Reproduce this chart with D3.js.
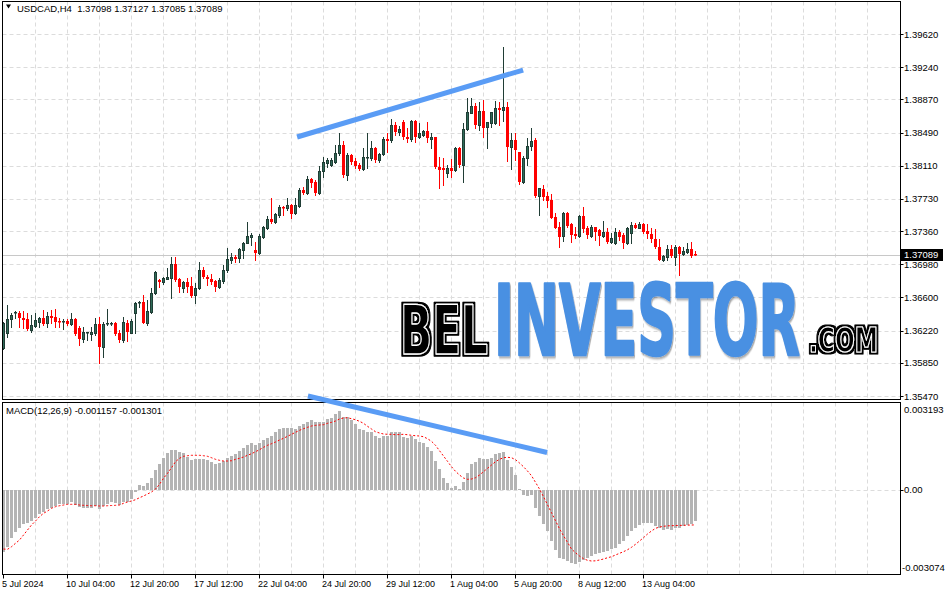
<!DOCTYPE html>
<html><head><meta charset="utf-8">
<script src="https://cdn.jsdelivr.net/npm/d3@7"></script>
<style>
body{margin:0;background:#fff}
svg{display:block}
text{font-family:'Liberation Sans',Arial,sans-serif}
</style>
</head><body>
<svg id="chart" width="946" height="595"></svg>
<script>
// ---------------- DATA ----------------
const symbol = "USDCAD,H4";
const openP = [1.36021,1.36196,1.36353,1.36422,1.36419,1.36368,1.36350,1.36227,1.36273,1.36315,
1.36368,1.36304,1.36388,1.36373,1.36334,1.36322,1.36330,1.36296,1.36353,1.36247,
1.36124,1.36189,1.36181,1.36196,1.36296,1.36036,1.36293,1.36293,1.36304,1.36189,
1.36113,1.36304,1.36196,1.36419,1.36540,1.36545,1.36311,1.36437,1.36648,1.36800,
1.36781,1.36812,1.36820,1.36984,1.36812,1.36712,1.36774,1.36731,1.36628,1.36705,
1.36915,1.36831,1.36812,1.36789,1.36723,1.36792,1.36915,1.37029,1.37067,1.37049,
1.37144,1.37221,1.37296,1.37144,1.37113,1.37296,1.37400,1.37496,1.37468,1.37545,
1.37640,1.37622,1.37660,1.37565,1.37648,1.37832,1.37801,1.37954,1.37920,1.37797,
1.38049,1.38141,1.38118,1.38156,1.38252,1.38347,1.38004,1.38233,1.38164,1.38118,
1.38069,1.38198,1.38195,1.38309,1.38175,1.38244,1.38413,1.38405,1.38577,1.38500,
1.38611,1.38436,1.38413,1.38626,1.38436,1.38462,1.38511,1.38413,1.38436,1.38092,
1.38080,1.38023,1.38080,1.38061,1.38309,1.38118,1.38527,1.38717,1.38794,1.38577,
1.38737,1.38557,1.38603,1.38596,1.38768,1.38748,1.38779,1.38328,1.38405,1.38271,
1.37927,1.38195,1.38336,1.38405,1.37763,1.37843,1.37766,1.37717,1.37526,1.37411,
1.37308,1.37571,1.37442,1.37327,1.37308,1.37534,1.37400,1.37308,1.37411,1.37373,
1.37308,1.37354,1.37239,1.37221,1.37354,1.37316,1.37221,1.37342,1.37430,1.37400,
1.37442,1.37362,1.37327,1.37270,1.37175,1.37029,1.37067,1.37152,1.37067,1.37175,
1.37098,1.37125,1.37155,1.37098];
const highP = [1.36319,1.36514,1.36425,1.36448,1.36448,1.36445,1.36419,1.36399,1.36419,1.36380,
1.36456,1.36437,1.36456,1.36464,1.36361,1.36353,1.36353,1.36419,1.36361,1.36273,
1.36265,1.36208,1.36265,1.36361,1.36373,1.36322,1.36468,1.36322,1.36322,1.36227,
1.36380,1.36342,1.36350,1.36552,1.36563,1.36628,1.36571,1.36705,1.36903,1.36812,
1.36838,1.36934,1.37060,1.37060,1.36820,1.36792,1.36820,1.36838,1.36762,1.37010,
1.36946,1.36857,1.36869,1.36800,1.36820,1.36972,1.37163,1.37113,1.37087,1.37163,
1.37239,1.37468,1.37335,1.37239,1.37327,1.37419,1.37534,1.37743,1.37571,1.37660,
1.37648,1.37736,1.37668,1.37743,1.37851,1.37863,1.37992,1.37966,1.37946,1.38107,
1.38210,1.38198,1.38198,1.38347,1.38481,1.38393,1.38252,1.38244,1.38195,1.38138,
1.38309,1.38488,1.38393,1.38328,1.38259,1.38436,1.38481,1.38642,1.38614,1.38565,
1.38634,1.38539,1.38634,1.38634,1.38596,1.38519,1.38614,1.38481,1.38442,1.38206,
1.38195,1.38118,1.38183,1.38328,1.38328,1.38596,1.38882,1.38882,1.38825,1.38844,
1.38863,1.38607,1.38729,1.38855,1.38844,1.39470,1.38844,1.38481,1.38481,1.38271,
1.38221,1.38424,1.38546,1.38424,1.37851,1.37889,1.37812,1.37786,1.37571,1.37468,
1.37583,1.37583,1.37457,1.37411,1.37545,1.37640,1.37419,1.37430,1.37411,1.37381,
1.37480,1.37393,1.37335,1.37393,1.37373,1.37342,1.37411,1.37468,1.37450,1.37468,
1.37457,1.37442,1.37393,1.37381,1.37267,1.37087,1.37201,1.37201,1.37201,1.37190,
1.37182,1.37228,1.37239,1.37127];
const lowP = [1.36009,1.36150,1.36265,1.36368,1.36265,1.36247,1.36227,1.36208,1.36265,1.36265,
1.36284,1.36265,1.36304,1.36265,1.36265,1.36239,1.36284,1.36284,1.36170,1.36055,
1.36093,1.36113,1.36113,1.36170,1.35852,1.35921,1.36284,1.36284,1.36170,1.36093,
1.36093,1.36105,1.36189,1.36196,1.36494,1.36311,1.36284,1.36419,1.36640,1.36723,
1.36754,1.36806,1.36590,1.36792,1.36666,1.36666,1.36666,1.36609,1.36540,1.36697,
1.36820,1.36743,1.36754,1.36678,1.36705,1.36769,1.36895,1.36992,1.37003,1.37010,
1.37056,1.37221,1.37201,1.37029,1.37098,1.37278,1.37381,1.37450,1.37450,1.37519,
1.37545,1.37602,1.37507,1.37557,1.37640,1.37786,1.37782,1.37869,1.37774,1.37786,
1.37981,1.38095,1.38107,1.38141,1.38233,1.37984,1.37946,1.38130,1.38080,1.38061,
1.38061,1.38080,1.38175,1.38156,1.38156,1.38233,1.38271,1.38385,1.38462,1.38462,
1.38413,1.38385,1.38397,1.38385,1.38424,1.38450,1.38385,1.38309,1.38080,1.37851,
1.37889,1.37984,1.37984,1.38053,1.38092,1.37927,1.38519,1.38711,1.38539,1.38519,
1.38436,1.38309,1.38557,1.38588,1.38577,1.38626,1.38167,1.38072,1.38175,1.37900,
1.37915,1.38118,1.38290,1.37755,1.37545,1.37717,1.37640,1.37507,1.37393,1.37182,
1.37251,1.37411,1.37239,1.37278,1.37290,1.37354,1.37278,1.37296,1.37259,1.37201,
1.37296,1.37221,1.37221,1.37213,1.37259,1.37163,1.37213,1.37221,1.37393,1.37393,
1.37342,1.37278,1.37239,1.37163,1.37029,1.37021,1.37029,1.37067,1.36972,1.36857,
1.37087,1.37113,1.37067,1.37085];
const closeP = [1.36307,1.36350,1.36399,1.36433,1.36361,1.36342,1.36235,1.36284,1.36342,1.36361,
1.36296,1.36388,1.36361,1.36322,1.36319,1.36334,1.36299,1.36353,1.36181,1.36124,
1.36208,1.36201,1.36208,1.36296,1.36036,1.36296,1.36311,1.36311,1.36181,1.36113,
1.36315,1.36208,1.36334,1.36533,1.36552,1.36311,1.36445,1.36648,1.36895,1.36781,
1.36827,1.36838,1.36984,1.36800,1.36723,1.36774,1.36723,1.36617,1.36705,1.36915,
1.36831,1.36808,1.36781,1.36723,1.36800,1.36915,1.37037,1.37067,1.37041,1.37155,
1.37228,1.37304,1.37316,1.37113,1.37304,1.37404,1.37496,1.37465,1.37557,1.37640,
1.37629,1.37660,1.37557,1.37660,1.37832,1.37801,1.37954,1.37908,1.37794,1.38049,
1.38152,1.38175,1.38175,1.38252,1.38347,1.38004,1.38233,1.38156,1.38107,1.38069,
1.38206,1.38206,1.38309,1.38175,1.38244,1.38413,1.38393,1.38577,1.38500,1.38527,
1.38436,1.38413,1.38626,1.38436,1.38488,1.38511,1.38424,1.38436,1.38092,1.38061,
1.38061,1.38080,1.38053,1.38309,1.38118,1.38527,1.38729,1.38794,1.38577,1.38737,
1.38546,1.38607,1.38722,1.38768,1.38748,1.38786,1.38328,1.38405,1.38290,1.37927,
1.38195,1.38336,1.38393,1.37763,1.37851,1.37755,1.37709,1.37514,1.37400,1.37296,
1.37571,1.37419,1.37316,1.37308,1.37534,1.37385,1.37316,1.37411,1.37354,1.37308,
1.37354,1.37239,1.37285,1.37354,1.37296,1.37221,1.37393,1.37430,1.37400,1.37442,
1.37354,1.37324,1.37267,1.37175,1.37029,1.37075,1.37152,1.37075,1.37175,1.37098,
1.37133,1.37155,1.37075,1.37089];

// MACD(12,26,9) main line (histogram) and signal, in units of 1e-6
const macdMain = [-2289,-2105,-1773,-1552,-1405,-1279,-1242,-1158,-1036,-911,
-815,-715,-667,-594,-542,-531,-520,-468,-568,-630,
-667,-667,-667,-605,-726,-605,-542,-468,-505,-568,
-468,-446,-358,-77,170,144,232,439,723,944,
1176,1338,1460,1460,1397,1338,1213,1091,1128,1128,
1128,1091,1029,933,970,1054,1176,1239,1301,1423,
1545,1644,1729,1644,1707,1829,1913,1987,2112,2234,
2282,2282,2260,2234,2345,2407,2503,2566,2481,2481,
2503,2603,2651,2776,2898,2687,2665,2566,2407,2234,
2197,2134,2112,1987,1913,1987,1987,2112,2112,2112,
1950,1913,1987,1865,1766,1707,1582,1423,1054,759,
417,232,70,144,22,291,601,933,1029,1154,
1128,1128,1176,1301,1338,1397,1091,844,538,22,
-199,-225,-199,-667,-962,-1268,-1526,-1884,-2227,-2533,
-2558,-2632,-2717,-2754,-2658,-2595,-2533,-2437,-2385,-2348,
-2311,-2264,-2190,-2142,-2017,-1895,-1699,-1526,-1405,-1305,
-1242,-1242,-1242,-1331,-1405,-1489,-1452,-1489,-1405,-1405,
-1331,-1305,-1279,-1157];
const macdSignal = [-2190,-2201,-2105,-1980,-1858,-1674,-1489,-1305,-1158,-999,
-874,-789,-689,-630,-594,-568,-542,-542,-542,-568,
-579,-586,-594,-594,-605,-605,-594,-586,-579,-568,
-505,-457,-420,-372,-299,-236,-162,-88,22,195,
417,601,807,1029,1154,1228,1250,1265,1265,1265,
1250,1228,1176,1117,1080,1054,1054,1065,1117,1154,
1202,1265,1323,1397,1471,1559,1633,1692,1755,1829,
1891,1965,2039,2112,2186,2245,2297,2345,2370,2382,
2393,2444,2481,2529,2603,2640,2651,2614,2577,2518,
2444,2334,2234,2134,2087,2050,2039,2039,2024,2030,
2039,2024,2002,1987,1976,1950,1876,1781,1633,1434,
1239,1043,844,675,538,428,380,391,439,538,
660,785,907,1029,1117,1176,1191,1176,1102,981,
844,686,512,269,22,-262,-557,-852,-1147,-1441,
-1699,-1943,-2190,-2326,-2448,-2547,-2606,-2632,-2625,-2595,
-2558,-2511,-2474,-2411,-2348,-2289,-2216,-2127,-2017,-1895,
-1773,-1637,-1526,-1427,-1379,-1353,-1335,-1330,-1325,-1320,
-1315,-1310,-1305,-1301];

const priceTicks = [1.39620,1.39240,1.38870,1.38490,1.38110,1.37730,1.37360,1.36980,1.36600,1.36220,1.35850,1.35470];
const macdTicks = [0.003193, 0, -0.003074];
const macdTickLabels = ["0.003193","0.00","-0.003074"];
const timeTickBars = [0,16,32,48,64,80,96,112,128,144,160];
const timeTickLabels = ["5 Jul 2024","10 Jul 04:00","12 Jul 20:00","17 Jul 12:00","22 Jul 04:00","24 Jul 20:00","29 Jul 12:00","1 Aug 04:00","5 Aug 20:00","8 Aug 12:00","13 Aug 04:00"];
const trendPrice = [{bar:73.4, value:1.38439},{bar:129.9, value:1.39207}];
const trendMacd  = [{bar:76.1, value:0.003451},{bar:135.9, value:0.001368}];

// ---------------- LAYOUT ----------------
const svg = d3.select("#chart");
const L = 2.5, R = 900.5, mainTop = 1.5, mainBot = 399.5, macdTop = 402.5, macdBot = 574.5;
const x = d3.scaleLinear().domain([0, 224]).range([3.5, 899.5]);
const y = d3.scaleLinear().domain([1.35470, 1.39620]).range([396, 34]);
const ym = d3.scaleLinear().domain([-0.003074, 0.003193]).range([573, 403]);
const fmt5 = d3.format(".5f");
const gridCol = "#dcdcdc", bullFill = "#2f6b58", bullLine = "#203d35", bear = "#ff0000";

const defs = svg.append("defs");
defs.append("clipPath").attr("id","clipMain").append("rect")
  .attr("x",L).attr("y",mainTop).attr("width",R-L).attr("height",mainBot-mainTop);
defs.append("clipPath").attr("id","clipMacd").append("rect")
  .attr("x",L).attr("y",macdTop).attr("width",R-L).attr("height",macdBot-macdTop);
const f = defs.append("filter").attr("id","shadow").attr("x","-5%").attr("y","-5%").attr("width","115%").attr("height","125%");
f.append("feDropShadow").attr("dx",1.5).attr("dy",2).attr("stdDeviation",1.2)
  .attr("flood-color","#000").attr("flood-opacity",0.35);
const fo = defs.append("filter").attr("id","outer").attr("x","-10%").attr("y","-10%").attr("width","120%").attr("height","130%");
fo.append("feMorphology").attr("in","SourceAlpha").attr("operator","dilate").attr("radius",2.2).attr("result","d");
fo.append("feFlood").attr("flood-color","#000").attr("result","k");
fo.append("feComposite").attr("in","k").attr("in2","d").attr("operator","in").attr("result","o");
const fm = fo.append("feMerge");
fm.append("feMergeNode").attr("in","o");
fm.append("feMergeNode").attr("in","SourceGraphic");

const n = closeP.length;
const bars = d3.range(n).map(i => ({i, o:openP[i], h:highP[i], l:lowP[i], c:closeP[i], m:macdMain[i]*1e-6, s:macdSignal[i]*1e-6}));
const gridBars = d3.range(8, 224, 8);

// ---------------- GRID ----------------
const grid = svg.append("g").attr("stroke", gridCol).attr("stroke-dasharray","4,3").attr("stroke-width",1);
grid.selectAll(".hg").data(priceTicks).join("line")
  .attr("x1",L).attr("x2",R).attr("y1",d=>Math.round(y(d))+0.5).attr("y2",d=>Math.round(y(d))+0.5);
grid.selectAll(".vg").data(gridBars).join("line")
  .attr("x1",d=>x(d)).attr("x2",d=>x(d)).attr("y1",mainTop).attr("y2",mainBot);
grid.selectAll(".vg2").data(gridBars).join("line")
  .attr("x1",d=>x(d)).attr("x2",d=>x(d)).attr("y1",macdTop).attr("y2",macdBot);
grid.append("line").attr("x1",L).attr("x2",R).attr("y1",Math.round(ym(0))+0.5).attr("y2",Math.round(ym(0))+0.5);

// ---------------- WATERMARK ----------------
const wm = svg.append("g").attr("font-weight","bold");
const wmFont = "'Liberation Sans Narrow','DejaVu Sans Condensed','Liberation Sans',Arial,sans-serif";
// text scaled horizontally to a target width (so its box matches what is drawn)
function fitText(txt, tx, ty, size, len){
  const g = wm.append("g").attr("transform",`translate(${tx},${ty})`);
  const t = g.append("text").text(txt).attr("x",0).attr("y",0).attr("font-size",size).style("font-family",wmFont);
  const w = t.node().getComputedTextLength();
  g.attr("transform",`translate(${tx},${ty}) scale(${len/w},1)`);
  return t;
}
fitText("BEL", 400, 354, 68, 88)
  .style("fill","#000").attr("stroke","#fff").attr("stroke-width",1.3).attr("stroke-linejoin","round").attr("filter","url(#outer)");
fitText("INVESTOR", 494, 355, 98, 306)
  .style("fill","#4a90e2").attr("stroke","#4a90e2").attr("stroke-width",2.5).attr("stroke-linejoin","round").attr("filter","url(#shadow)");
fitText(".COM", 809, 352, 34, 69)
  .style("fill","#000").attr("stroke","#fff").attr("stroke-width",1.2).attr("stroke-linejoin","round").attr("filter","url(#outer)");

// ---------------- BID LINE ----------------
const lastClose = closeP[n-1];
svg.append("line").attr("x1",L).attr("x2",R).attr("y1",Math.round(y(lastClose))+0.5).attr("y2",Math.round(y(lastClose))+0.5)
  .attr("stroke","#c8c8c8").attr("stroke-width",1);

// ---------------- CANDLES ----------------
const cg = svg.append("g").attr("clip-path","url(#clipMain)");
const cand = cg.selectAll("g.c").data(bars).join("g");
cand.append("line")
  .attr("x1",d=>x(d.i)).attr("x2",d=>x(d.i))
  .attr("y1",d=>Math.round(y(d.h))).attr("y2",d=>Math.round(y(d.l))+1)
  .attr("stroke",d=>d.c>=d.o?bullLine:bear).attr("stroke-width",1);
cand.each(function(d){
  const g = d3.select(this);
  const top = Math.round(y(Math.max(d.o,d.c))), bot = Math.round(y(Math.min(d.o,d.c)));
  const h = Math.max(1, bot-top);
  if (d.c >= d.o) {
    if (h >= 2) {
      g.append("rect").attr("x",x(d.i)-1).attr("y",top+0.5).attr("width",2).attr("height",h)
        .attr("fill",bullFill).attr("stroke",bullLine).attr("stroke-width",1);
    } else {
      g.append("rect").attr("x",x(d.i)-1.5).attr("y",top).attr("width",3).attr("height",1.5).attr("fill",bullLine);
    }
  } else {
    g.append("rect").attr("x",x(d.i)-1.5).attr("y",top).attr("width",3).attr("height",h+ (h<2?0.5:0)).attr("fill",bear);
  }
});

// ---------------- MACD ----------------
const mg = svg.append("g").attr("clip-path","url(#clipMacd)");
const z = Math.round(ym(0));
mg.selectAll("rect.h").data(bars).join("rect")
  .attr("x",d=>x(d.i)-1.5).attr("width",3)
  .attr("y",d=>Math.min(z, Math.round(ym(d.m))))
  .attr("height",d=>Math.max(1, Math.abs(Math.round(ym(d.m))-z)))
  .attr("fill","#b4b4b4");
mg.append("path").datum(bars)
  .attr("d", d3.line().x(d=>x(d.i)).y(d=>ym(d.s)))
  .attr("fill","none").attr("stroke","#ff0000").attr("stroke-width",1).attr("stroke-dasharray","2,2");

// ---------------- FRAMES & AXES ----------------
const fr = svg.append("g").attr("fill","none").attr("stroke","#000").attr("stroke-width",1);
fr.append("rect").attr("x",L).attr("y",mainTop).attr("width",R-L).attr("height",mainBot-mainTop);
fr.append("rect").attr("x",L).attr("y",macdTop).attr("width",R-L).attr("height",macdBot-macdTop);

const axG = svg.append("g").attr("font-size","9.5px").attr("fill","#000");
axG.selectAll("line.pt").data(priceTicks).join("line")
  .attr("x1",R).attr("x2",R+3).attr("y1",d=>Math.round(y(d))+0.5).attr("y2",d=>Math.round(y(d))+0.5).attr("stroke","#000");
axG.selectAll("text.pt").data(priceTicks).join("text")
  .attr("x",904).attr("y",d=>y(d)+3.5).text(d=>fmt5(d));

// current price label
svg.append("rect").attr("x",901).attr("y",Math.round(y(lastClose))-6).attr("width",42).attr("height",12).attr("fill","#000");
svg.append("text").attr("x",904).attr("y",y(lastClose)+3.5).attr("font-size","9.5px").attr("fill","#fff").text(fmt5(lastClose));

// MACD axis
axG.selectAll("text.mt").data(macdTicks).join("text")
  .attr("x",(d,i)=> i===2 ? 902 : 904)
  .attr("y",d=>Math.max(macdTop+7, Math.min(macdBot-7, ym(d)))+3.5)
  .text((d,i)=>macdTickLabels[i]);
axG.append("line").attr("x1",R).attr("x2",R+3).attr("y1",z+0.5).attr("y2",z+0.5).attr("stroke","#000");

// time axis
const tg = svg.append("g").attr("font-size","9px").attr("fill","#000");
tg.selectAll("line").data(timeTickBars).join("line")
  .attr("x1",d=>x(d)).attr("x2",d=>x(d)).attr("y1",macdBot).attr("y2",macdBot+4).attr("stroke","#000");
tg.selectAll("text").data(timeTickBars).join("text")
  .attr("x",d=>x(d)-1.5).attr("y",587).text((d,i)=>timeTickLabels[i]);

// header
svg.append("path").attr("d","M6,4.5 L11,4.5 L8.5,8.5 Z").attr("fill","#000");
svg.append("text").attr("x",17).attr("y",12).attr("font-size","9.5px").attr("fill","#000").style("white-space","pre")
  .text(`${symbol}  ${fmt5(openP[n-1])} ${fmt5(highP[n-1])} ${fmt5(lowP[n-1])} ${fmt5(closeP[n-1])}`);
svg.append("text").attr("x",6).attr("y",414).attr("font-size","9.5px").attr("fill","#000")
  .text(`MACD(12,26,9) ${(macdMain[n-1]*1e-6).toFixed(6)} ${(macdSignal[n-1]*1e-6).toFixed(6)}`);

// ---------------- TREND LINES ----------------
const tl = svg.append("g").attr("stroke","#5a9cf5").attr("stroke-width",5).attr("fill","none").attr("stroke-linecap","butt");
tl.append("path").datum(trendPrice).attr("d", d3.line().x(d=>x(d.bar)).y(d=>y(d.value)));
tl.append("path").datum(trendMacd).attr("d", d3.line().x(d=>x(d.bar)).y(d=>ym(d.value)));
</script>
</body></html>
